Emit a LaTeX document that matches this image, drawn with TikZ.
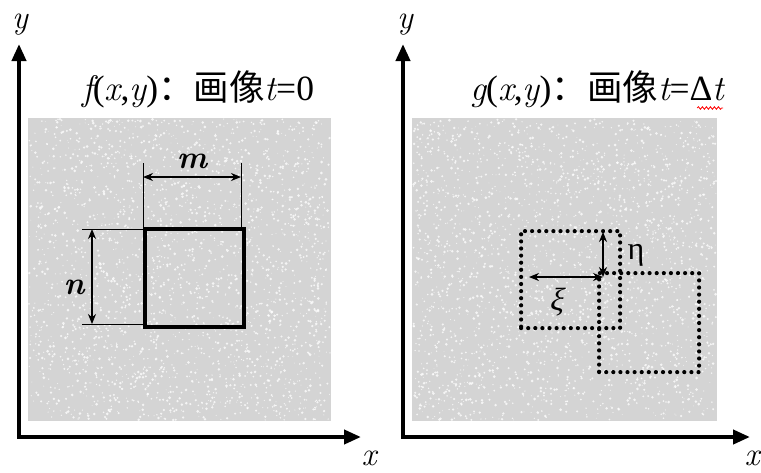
\documentclass[tikz,border=0pt]{standalone}
\usepackage{fontspec}
\setmainfont{Liberation Serif}
\newfontfamily\lmit{Latin Modern Roman}
\newfontfamily\slgreek{Liberation Serif}[FakeSlant=0.22]
\newfontfamily\cjk{Noto Sans CJK SC}
\newcommand\vi[1]{{\lmit\itshape #1}}
\newcommand\vb[1]{{\lmit\bfseries\itshape #1}}
\usetikzlibrary{arrows.meta,decorations.pathmorphing}
\definecolor{panelgray}{RGB}{212,212,212}
\begin{document}
\begin{tikzpicture}[x=1pt,y=-1pt,
  axis/.style={line width=4pt,-{Triangle[length=17pt,width=14pt]}},
  dim/.style={line width=1.3pt,{Stealth[length=10pt,width=8pt]}-{Stealth[length=10pt,width=8pt]}},
  ext/.style={line width=1pt},
  win/.style={line width=4pt},
  dotwin/.style={line width=4.2pt,line cap=round,dash pattern=on 0pt off 7.1pt},
  lbl/.style={font=\fontsize{33}{38}\selectfont,inner sep=0pt},
  title/.style={font=\fontsize{35.5}{42}\selectfont,inner sep=0pt},
  sym/.style={font=\fontsize{32}{36}\selectfont,inner sep=0pt},
  panel/.style={fill=panelgray,draw=none}]
\useasboundingbox (0,0) rectangle (761,472);
% panels
\fill[panel] (28,118) rectangle (331,421);
\fill[panel] (412,118) rectangle (717,421);
\pgfmathsetseed{7}
\foreach \i in {1,...,2400}{
  \fill[white,opacity=0.75] ({29+301*rnd},{119+301*rnd}) circle[radius={0.4+1.1*rnd}];
  \fill[white,opacity=0.75] ({413+303*rnd},{119+301*rnd}) circle[radius={0.4+1.1*rnd}];
}
% axes
\coordinate (o1) at (19,437);
\coordinate (y1) at (19,44);
\coordinate (x1) at (361,437);
\coordinate (o2) at (403,437);
\coordinate (y2) at (403,44);
\coordinate (x2) at (750,437);
\draw[axis] (o1) -- (y1);
\draw[axis] ([xshift=-2pt]o1) -- (x1);
\draw[axis] (o2) -- (y2);
\draw[axis] ([xshift=-2pt]o2) -- (x2);
\node[lbl,anchor=base] (ly1) at (20,28) {\vi{y}};
\node[lbl,anchor=base] (lx1) at (369,465) {\vi{x}};
\node[lbl,anchor=base] (ly2) at (405,28) {\vi{y}};
\node[lbl,anchor=base] (lx2) at (752,465) {\vi{x}};
% titles
\node[title,anchor=base west] (t1) at (82,100) {\vi{f}(\vi{x},\vi{y}){\cjk ：画像}\vi{t}=0};
\node[title,anchor=base west] (t2) at (470,100) {\vi{g}(\vi{x},\vi{y}){\cjk ：画像}\vi{t}=Δ\vi{t}};
\draw[red,line width=0.8pt,decorate,decoration={snake,amplitude=1.3pt,segment length=4pt}]
  ([xshift=-27pt,yshift=-8pt]t2.base east) -- ([xshift=-1pt,yshift=-8pt]t2.base east);
% left window
\node[win,draw,minimum width=99pt,minimum height=98pt,inner sep=0pt,anchor=north west] (w) at (143,227) {};
\coordinate (mt1) at (143,163);
\coordinate (mt2) at (241,163);
\draw[ext] (mt1) -- (w.north west);
\draw[ext] (mt2) -- (w.north east -| mt2);
\draw[dim] (143,177) coordinate (ma) -- (241,177) coordinate (mb);
\node[sym,anchor=base] (m) at (192,168) {\vb{m}};
\coordinate (nt1) at (82,229);
\coordinate (nt2) at (82,324);
\draw[ext] (nt1) -- (w.north west |- nt1);
\draw[ext] (nt2) -- (w.south west |- nt2);
\draw[dim] (92,229) coordinate (na) -- (92,324) coordinate (nb);
\node[sym,anchor=base] (n) at (74,294) {\vb{n}};
% right windows
\node[dotwin,draw,minimum width=99pt,minimum height=97pt,inner sep=0pt,anchor=north west] (d1) at (519,229) {};
\node[dotwin,draw,minimum width=100pt,minimum height=99pt,inner sep=0pt,anchor=north west] (d2) at (597,271) {};
\coordinate (c) at (603,277);
\coordinate (xa) at (529,277);
\coordinate (ea) at (603,232);
\draw[dim,line width=1.2pt] (xa) -- (c);
\draw[dim,line width=1.2pt] (c) -- (ea);
\node[sym,anchor=base] (eta) at (636,259) {η};
\node[sym,anchor=base] (xi) at (556,310) {{\slgreek ξ}};
\end{tikzpicture}
\end{document}
